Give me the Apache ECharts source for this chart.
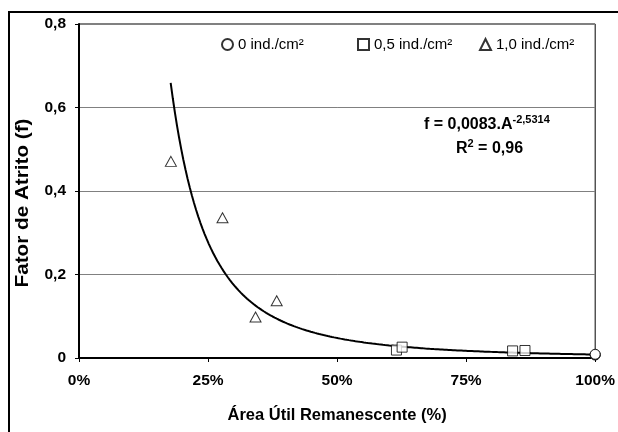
<!DOCTYPE html>
<html>
<head>
<meta charset="utf-8">
<script src="https://cdn.jsdelivr.net/npm/echarts@6/dist/echarts.min.js"></script>
<style>
  html, body { margin: 0; padding: 0; background: #fff; }
  #chart { width: 618px; height: 432px; }
</style>
</head>
<body>
<div id="chart"></div>
<script>
// Remaining useful area (fraction) and friction factor per density group
const circleArea = [1.0, 1.0, 1.0];
const circleF = [0.007, 0.008, 0.009];

const squareArea = [0.615, 0.626, 0.840, 0.864];
const squareF = [0.019, 0.026, 0.017, 0.018];

const triangleArea = [0.178, 0.278, 0.342, 0.383];
const triangleF = [0.471, 0.336, 0.098, 0.137];

const seriesNames = ['0 ind./cm²', '0,5 ind./cm²', '1,0 ind./cm²'];

// Power-law trend: f = a * A^b
const trendA = 0.0083;
const trendB = -2.5314;
const trendR2 = 0.96;
const trendRange = [0.1776, 1.0];

const xTicks = [0, 0.25, 0.5, 0.75, 1];
const yTicks = [0, 0.2, 0.4, 0.6, 0.8];

const zip = (xs, ys) => xs.map((x, i) => [x, ys[i]]);
const dec = (v, n) => v.toFixed(n).replace('.', ',');

const trend = [];
for (let i = 0; i <= 200; i++) {
  const a = trendRange[0] + (trendRange[1] - trendRange[0]) * i / 200;
  trend.push([a, trendA * Math.pow(a, trendB)]);
}

const FONT = 'Liberation Sans, Arial, sans-serif';
const hollow = { color: '#fff', borderColor: '#000', borderWidth: 1 };
const legendText = { fontFamily: FONT, fontSize: 15, color: '#000' };
const legendBase = { top: 37, padding: 0, itemWidth: 11, itemHeight: 11, textStyle: legendText };
const supRich = {
  b: { fontFamily: FONT, fontSize: 16, fontWeight: 'bold', fill: '#000', verticalAlign: 'bottom' },
  s: { fontFamily: FONT, fontSize: 11, fontWeight: 'bold', fill: '#000', verticalAlign: 'top', padding: [0, 0, 8, 0] }
};

const chart = echarts.init(document.getElementById('chart'));
chart.setOption({
  animation: false,
  backgroundColor: '#fff',
  textStyle: { fontFamily: FONT },
  grid: { left: 79, right: 17, top: 24, bottom: 74, show: true, borderColor: '#000', borderWidth: 1 },
  legend: [
    Object.assign({ data: [seriesNames[0]], left: 221 }, legendBase),
    Object.assign({ data: [seriesNames[1]], left: 357 }, legendBase),
    Object.assign({ data: [seriesNames[2]], left: 479 }, legendBase)
  ],
  xAxis: {
    type: 'value',
    min: xTicks[0], max: xTicks[xTicks.length - 1], interval: 0.25,
    name: 'Área Útil Remanescente (%)',
    nameLocation: 'middle',
    nameGap: 49,
    nameTextStyle: { fontFamily: FONT, fontSize: 16.5, fontWeight: 'bold', color: '#000' },
    axisLine: { lineStyle: { color: '#000', width: 2 } },
    axisTick: { show: true, length: 4, lineStyle: { color: '#000', width: 1 } },
    axisLabel: {
      margin: 15, fontFamily: FONT, fontSize: 15.5, fontWeight: 'bold', color: '#000',
      formatter: v => Math.round(v * 100) + '%'
    },
    splitLine: { show: false }
  },
  yAxis: {
    type: 'value',
    min: yTicks[0], max: yTicks[yTicks.length - 1], interval: 0.2,
    axisLine: { show: true, lineStyle: { color: '#000', width: 2 } },
    axisTick: { show: true, length: 4, lineStyle: { color: '#000', width: 1 } },
    axisLabel: {
      margin: 13, fontFamily: FONT, fontSize: 15.5, fontWeight: 'bold', color: '#000',
      formatter: v => v === 0 ? '0' : dec(v, 1)
    },
    splitLine: { show: true, lineStyle: { color: '#808080', width: 1 } }
  },
  graphic: [
    {
      type: 'rect', silent: true, z: 100,
      shape: { x: 9, y: 12, width: 640, height: 460 },
      style: { fill: 'none', stroke: '#000', lineWidth: 2 }
    },
    {
      // y-axis title, set vertically
      type: 'text', x: 23, y: 203, rotation: Math.PI / 2, scaleX: 1.15, z: 100,
      style: {
        text: 'Fator de Atrito (f)', align: 'center', verticalAlign: 'middle',
        font: 'bold 18px Liberation Sans, Arial, sans-serif', fill: '#000'
      }
    },
    {
      type: 'text', left: 424, top: 114, z: 100,
      style: {
        text: '{b|f = ' + dec(trendA, 4) + '.A}{s|' + dec(trendB, 4) + '}',
        rich: supRich
      }
    },
    {
      type: 'text', left: 456, top: 138, z: 100,
      style: {
        text: '{b|R}{s|2}{b| = ' + dec(trendR2, 2) + '}',
        rich: supRich
      }
    }
  ],
  series: [
    {
      name: 'trend', type: 'line', data: trend, showSymbol: false, smooth: false,
      lineStyle: { color: '#000', width: 2 }, z: 2, silent: true
    },
    {
      name: seriesNames[0], type: 'scatter', symbol: 'circle', symbolSize: 10,
      data: zip(circleArea, circleF), itemStyle: hollow, z: 3
    },
    {
      name: seriesNames[1], type: 'scatter', symbol: 'rect', symbolSize: 10,
      data: zip(squareArea, squareF), itemStyle: hollow, z: 3
    },
    {
      name: seriesNames[2], type: 'scatter', symbol: 'triangle', symbolSize: [11, 10],
      data: zip(triangleArea, triangleF), itemStyle: hollow, z: 3
    }
  ]
});
</script>
</body>
</html>
